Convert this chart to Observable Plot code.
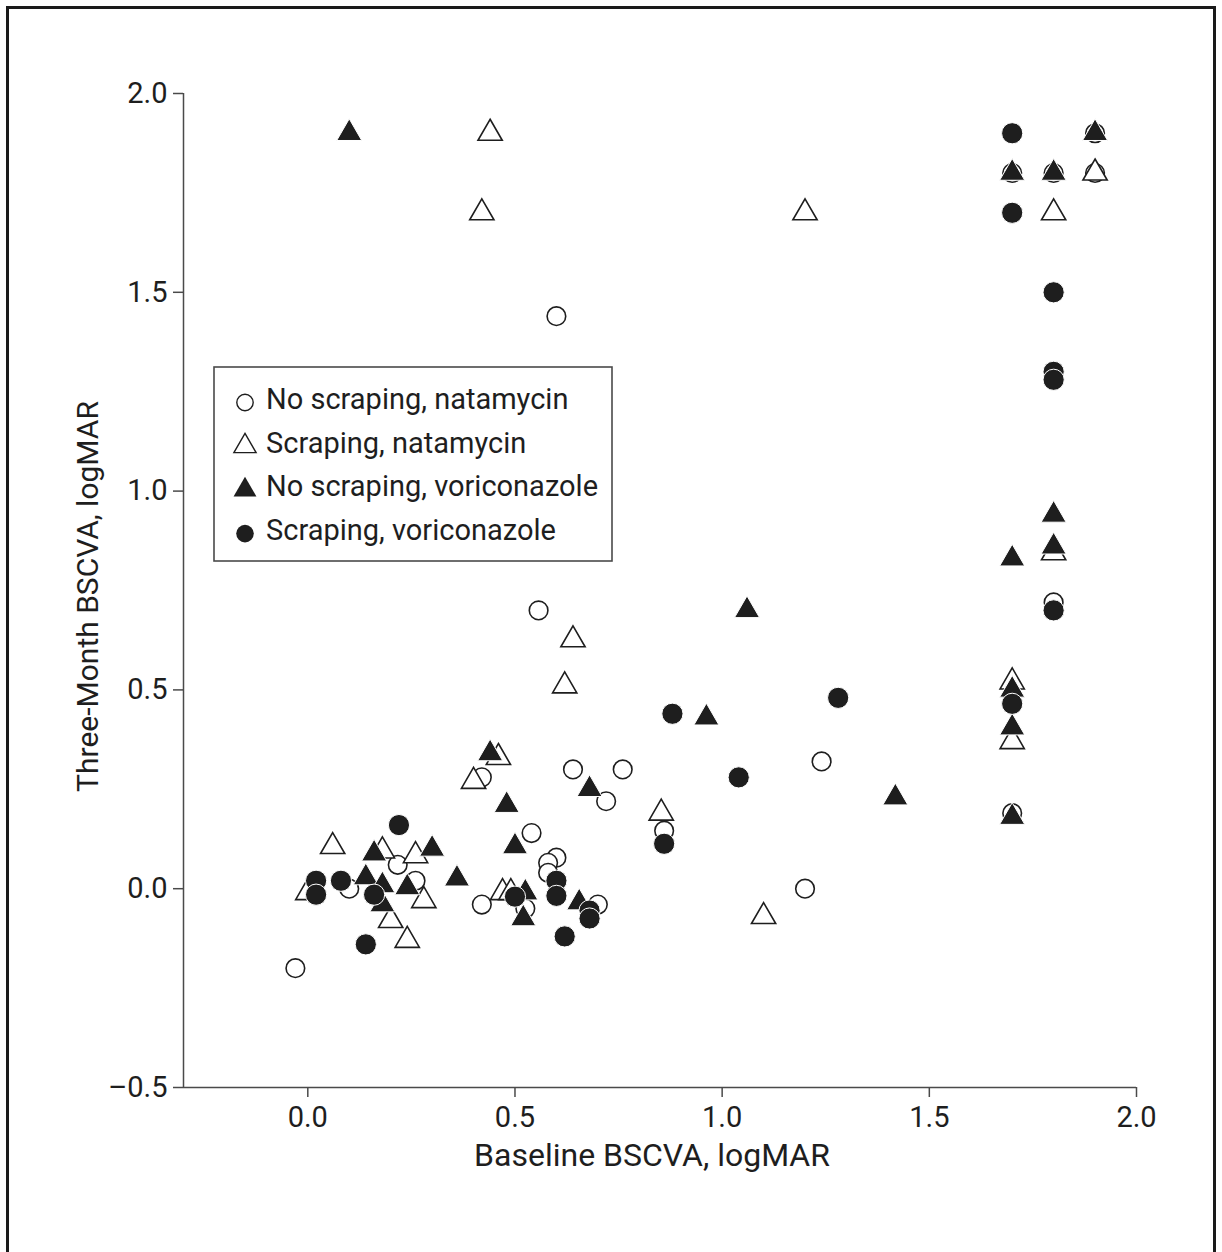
<!DOCTYPE html>
<html><head><meta charset="utf-8">
<script src="https://cdn.jsdelivr.net/npm/d3@7"></script>
<script src="https://cdn.jsdelivr.net/npm/@observablehq/plot@0.6"></script>
<style>
html,body{margin:0;padding:0;background:#fff;}
#wrap{position:relative;width:1222px;height:1252px;overflow:hidden;background:#fff;}
#frame{position:absolute;left:6px;top:6px;width:1210px;height:1300px;border:3px solid #1a1a1a;box-sizing:border-box;pointer-events:none;}
</style></head><body>
<div id="wrap"><div id="chart"></div><div id="frame"></div></div>
<script>
// ---- data (logMAR) ----
const seriesNames = ["No scraping, natamycin", "Scraping, natamycin", "No scraping, voriconazole", "Scraping, voriconazole"];

// No scraping, natamycin (open circles)
const nsNatX = [0.60, 1.90, 1.90, 1.70, 1.80, 1.80, 1.70, 1.24, 1.20, 0.557, 0.86, 0.64, 0.76, 0.42, 0.72, 0.54, 0.60, 0.58, 0.58, 0.42, 0.525, 0.70, 0.217, 0.26, 0.10, -0.03];
const nsNatY = [1.44, 1.90, 1.80, 1.80, 1.80, 0.72, 0.19, 0.32, 0.00, 0.70, 0.146, 0.30, 0.30, 0.28, 0.22, 0.14, 0.078, 0.065, 0.04, -0.04, -0.05, -0.04, 0.06, 0.02, 0.00, -0.20];

// Scraping, natamycin (open triangles)
const sNatX = [0.44, 0.42, 1.20, 1.90, 1.80, 1.80, 1.70, 1.70, 0.64, 0.62, 0.46, 0.40, 0.853, 1.10, 0.47, 0.49, 0.06, 0.18, 0.26, 0.00, 0.28, 0.20, 0.24];
const sNatY = [1.90, 1.70, 1.70, 1.80, 1.70, 0.845, 0.52, 0.37, 0.626, 0.51, 0.33, 0.27, 0.19, -0.07, -0.01, -0.01, 0.106, 0.095, 0.083, -0.01, -0.03, -0.08, -0.13];

// No scraping, voriconazole (filled triangles)
const nsVorX = [0.10, 1.90, 1.70, 1.80, 1.80, 1.80, 1.70, 1.70, 1.70, 1.70, 1.06, 0.962, 1.418, 0.44, 0.68, 0.48, 0.50, 0.36, 0.525, 0.52, 0.655, 0.16, 0.30, 0.14, 0.18, 0.24, 0.18];
const nsVorY = [1.90, 1.90, 1.80, 1.80, 0.94, 0.86, 0.83, 0.50, 0.405, 0.18, 0.70, 0.43, 0.229, 0.34, 0.25, 0.21, 0.106, 0.025, -0.01, -0.075, -0.035, 0.088, 0.10, 0.028, 0.008, 0.003, -0.04];

// Scraping, voriconazole (filled circles)
const sVorX = [1.70, 1.70, 1.80, 1.80, 1.80, 1.80, 1.70, 1.28, 0.88, 1.04, 0.86, 0.60, 0.60, 0.50, 0.68, 0.68, 0.62, 0.22, 0.02, 0.02, 0.08, 0.16, 0.14];
const sVorY = [1.90, 1.70, 1.50, 1.30, 1.28, 0.70, 0.465, 0.48, 0.44, 0.28, 0.113, 0.02, -0.018, -0.02, -0.055, -0.075, -0.12, 0.16, 0.02, -0.015, 0.02, -0.015, -0.14];

const xTicks = [0, 0.5, 1.0, 1.5, 2.0];
const yTicks = [-0.5, 0, 0.5, 1.0, 1.5, 2.0];
const xLabel = "Baseline BSCVA, logMAR";
const yLabel = "Three-Month BSCVA, logMAR";

const toRows = (xs, ys) => xs.map((x, i) => ({x, y: ys[i]}));
const nsNat = toRows(nsNatX, nsNatY);
const sNat = toRows(sNatX, sNatY);
const nsVor = toRows(nsVorX, nsVorY);
const sVor = toRows(sVorX, sVorY);

const fmt = d => (d < 0 ? "\u2013" : "") + Math.abs(d).toFixed(1);
const ink = "#1e1e1e";
const axisGray = "#4a4a4a";
const FONT = "Roboto, 'Liberation Sans', sans-serif";

const chart = Plot.plot({
  width: 1222,
  height: 1252,
  marginLeft: 183,
  marginRight: 86,
  marginTop: 93,
  marginBottom: 165,
  style: {fontFamily: FONT, fontSize: "29px", color: ink, background: "white", overflow: "visible"},
  x: {domain: [-0.3, 2.0]},
  y: {domain: [-0.5, 2.0]},
  marks: [
    Plot.axisX({ticks: xTicks, tickFormat: fmt, tickSize: 10, tickPadding: 9, label: null, stroke: axisGray, strokeWidth: 1.5}),
    Plot.axisY({ticks: yTicks, tickFormat: fmt, tickSize: 10, tickPadding: 6, label: null, stroke: axisGray, strokeWidth: 1.5}),
    Plot.ruleX([-0.3], {y1: -0.5, y2: 2.0, stroke: axisGray, strokeWidth: 1.5}),
    Plot.ruleY([-0.5], {x1: -0.3, x2: 2.0, stroke: axisGray, strokeWidth: 1.5}),
    Plot.text([xLabel], {frameAnchor: "bottom", textAnchor: "middle", dx: -8, dy: 78, fontSize: 32, fill: ink, fontFamily: FONT}),
    Plot.text([yLabel], {frameAnchor: "left", textAnchor: "middle", dx: -95, dy: 6, rotate: -90, fontSize: 30, fill: ink, fontFamily: FONT}),
    Plot.dot(nsNat, {x: "x", y: "y", symbol: "circle", r: 9.3, fill: "white", stroke: ink, strokeWidth: 1.6}),
    Plot.dot(sNat, {x: "x", y: "y", symbol: "triangle", r: 9, fill: "white", stroke: ink, strokeWidth: 1.6}),
    Plot.dot(nsVor, {x: "x", y: "y", symbol: "triangle", r: 9.3, fill: ink, stroke: "white", strokeWidth: 1}),
    Plot.dot(sVor, {x: "x", y: "y", symbol: "circle", r: 10.6, fill: ink, stroke: "white", strokeWidth: 1})
  ]
});
document.getElementById("chart").appendChild(chart);

// ---- legend inside the plot area ----
const svg = d3.select(chart);
const lg = svg.append("g").attr("transform", "translate(214,367)");
lg.append("rect").attr("x", 0).attr("y", 0).attr("width", 398).attr("height", 194)
  .attr("fill", "white").attr("stroke", axisGray).attr("stroke-width", 1.6);
const legendStyle = [
  {sym: d3.symbolCircle, size: Math.PI * 8.2 * 8.2, fill: "white", stroke: ink},
  {sym: d3.symbolTriangle, size: 3 * Math.sqrt(3) * 6.4 * 6.4, fill: "white", stroke: ink},
  {sym: d3.symbolTriangle, size: 3 * Math.sqrt(3) * 6.6 * 6.6, fill: ink, stroke: "none"},
  {sym: d3.symbolCircle, size: Math.PI * 8.8 * 8.8, fill: ink, stroke: "none"}
];
seriesNames.forEach((name, i) => {
  const base = 42 + i * 43.7;
  const st = legendStyle[i];
  lg.append("path")
    .attr("d", d3.symbol(st.sym, st.size)())
    .attr("transform", `translate(31,${base - 6.5})`)
    .attr("fill", st.fill).attr("stroke", st.stroke).attr("stroke-width", 1.4);
  lg.append("text").attr("x", 52).attr("y", base)
    .attr("text-anchor", "start")
    .attr("font-family", FONT).attr("font-size", 29).attr("fill", ink)
    .text(name);
});
</script>
</body></html>
